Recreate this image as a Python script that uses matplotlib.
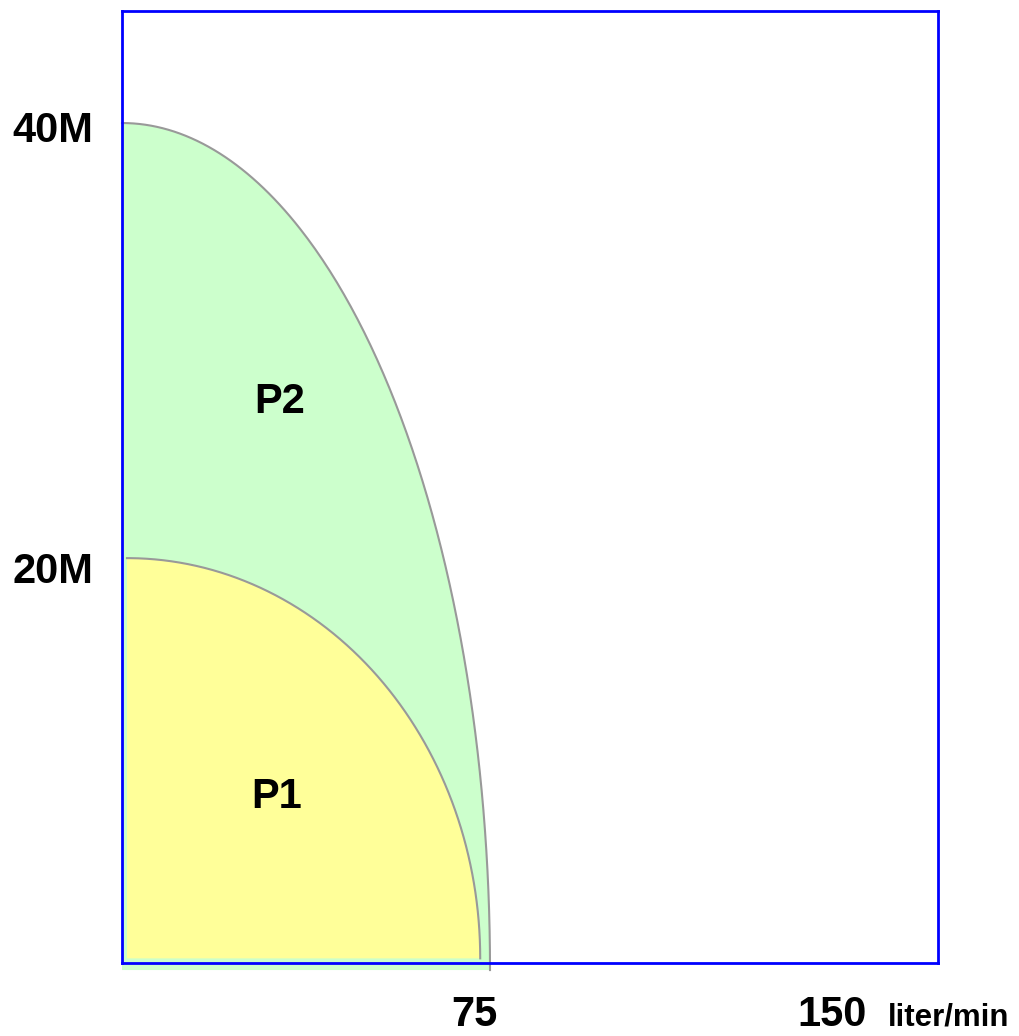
import numpy as np
import matplotlib.pyplot as plt
import matplotlib.transforms as mtransforms

# zones (flow in liter/min, pressure in M)
zones = ['P1', 'P2']
zone_colors = ['#ffff99', '#ccffcc']
flow_start = [2.4, 1.36]
flow_end = [76.3, 78.35]
pressure_base = [2.3, 1.77]
pressure_top = [20.45, 40.18]

x_ticks = [75, 150]
x_labels = ['75', '150']
y_ticks = [20, 40]
y_labels = ['20M', '40M']

plt.rcParams['font.family'] = ['Liberation Sans', 'DejaVu Sans']

fig = plt.figure(figsize=(10.19, 10.36), dpi=100)
ax = fig.add_axes([122 / 1019, 1 - 963 / 1036, 816 / 1019, 952 / 1036])
ax.set_xlim(1.36, 172.07)
ax.set_ylim(2.09, 45.26)

# draw the larger zone first so the smaller one sits on top
theta = np.linspace(0, np.pi / 2, 200)
for i in [1, 0]:
    x0, x1 = flow_start[i], flow_end[i]
    b, t = pressure_base[i], pressure_top[i]
    xs = x0 + (x1 - x0) * np.cos(theta)
    ys = b + (t - b) * np.sin(theta)
    ax.fill(np.r_[x0, xs], np.r_[b, ys], color=zone_colors[i], lw=0,
            clip_on=False, zorder=1 + (1 - i))
    ax.plot(xs, ys, color='#999999', lw=1.5, clip_on=False, zorder=2 + (1 - i))

ax.text(34.3, 27.03, zones[1], fontsize=30, fontweight='bold', ha='center', va='baseline')
ax.text(33.7, 9.12, zones[0], fontsize=30, fontweight='bold', ha='center', va='baseline')

ax.set_xticks([])
ax.set_yticks([])

# axis labels as plain text
px = mtransforms.IdentityTransform()
xlab_tr = mtransforms.blended_transform_factory(ax.transData, px)
for v, lab in zip(x_ticks, x_labels):
    ax.text(v, 10, lab, transform=xlab_tr, fontsize=30, fontweight='bold',
            ha='center', va='baseline', clip_on=False)
ax.text(161.6, 10, 'liter/min', transform=xlab_tr, fontsize=22.5, fontweight='bold',
        ha='left', va='baseline', clip_on=False)

ylab_tr = mtransforms.blended_transform_factory(px, ax.transData) + \
    mtransforms.ScaledTranslation(0, -15 / 100, fig.dpi_scale_trans)
for v, lab in zip(y_ticks, y_labels):
    ax.text(93, v, lab, transform=ylab_tr, fontsize=30, fontweight='bold',
            ha='right', va='baseline', clip_on=False)

for s in ax.spines.values():
    s.set_color('blue')
    s.set_linewidth(2)
    s.set_zorder(5)

fig.savefig('out.png', dpi=100)
